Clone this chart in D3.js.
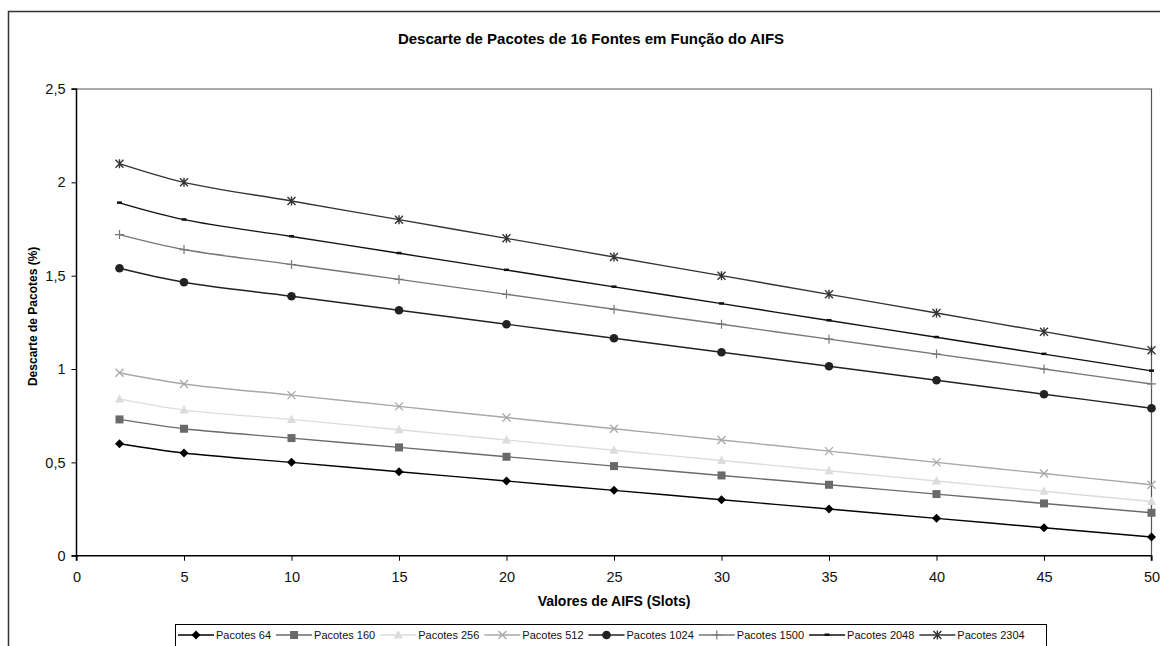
<!DOCTYPE html>
<html><head><meta charset="utf-8">
<script src="https://cdn.jsdelivr.net/npm/d3@7"></script>
<style>body{margin:0;background:#fff}svg{display:block;font-family:"Liberation Sans",Arial,sans-serif}</style>
</head><body><svg id="c" width="1160" height="646"></svg>
<script>
const xValues = [2,5,10,15,20,25,30,35,40,45,50];
const seriesNames = ["Pacotes 64","Pacotes 160","Pacotes 256","Pacotes 512","Pacotes 1024","Pacotes 1500","Pacotes 2048","Pacotes 2304"];
const p64   = [0.60,0.55,0.50,0.45,0.40,0.35,0.30,0.25,0.20,0.15,0.10];
const p160  = [0.73,0.68,0.63,0.58,0.53,0.48,0.43,0.38,0.33,0.28,0.23];
const p256  = [0.84,0.78,0.73,0.675,0.62,0.565,0.51,0.455,0.40,0.345,0.29];
const p512  = [0.98,0.92,0.86,0.80,0.74,0.68,0.62,0.56,0.50,0.44,0.38];
const p1024 = [1.54,1.465,1.39,1.315,1.24,1.165,1.09,1.015,0.94,0.865,0.79];
const p1500 = [1.72,1.64,1.56,1.48,1.40,1.32,1.24,1.16,1.08,1.00,0.92];
const p2048 = [1.89,1.80,1.71,1.62,1.53,1.44,1.35,1.26,1.17,1.08,0.99];
const p2304 = [2.10,2.00,1.90,1.80,1.70,1.60,1.50,1.40,1.30,1.20,1.10];
const xTicks = [0,5,10,15,20,25,30,35,40,45,50];
const yTicks = [0,0.5,1,1.5,2,2.5];
const yTickLabels = ["0","0,5","1","1,5","2","2,5"];

const values = [p64,p160,p256,p512,p1024,p1500,p2048,p2304];
const colors = ["#000000","#6a6a6a","#dcdcdc","#a8a8a8","#222222","#777777","#111111","#333333"];
const markers = ["diamond","square","triangle","x","circle","plus","dash","star"];

const svg = d3.select("#c");
const L=76.5, R=1151.5, T=89, B=555.7;
const x = d3.scaleLinear().domain([0,50]).range([L,R]);
const y = d3.scaleLinear().domain([0,2.5]).range([B,T]);

// outer border
svg.append("rect").attr("x",8.5).attr("y",11.5).attr("width",1170).attr("height",700)
  .attr("fill","none").attr("stroke","#333").attr("stroke-width",1.5);

// plot area border (top & right)
svg.append("path").attr("d",`M${L},${T}H${R}V${B}`).attr("fill","none").attr("stroke","#555").attr("stroke-width",1.2);

// axes
const yAxis = d3.axisLeft(y).tickValues(yTicks).tickSize(5).tickPadding(6).tickFormat((d,i)=>yTickLabels[i]);
const gy = svg.append("g").attr("transform",`translate(${L},0)`).call(yAxis);
const xAxis = d3.axisBottom(x).tickValues(xTicks).tickSize(5).tickPadding(11).tickFormat(d=>d);
const gx = svg.append("g").attr("transform",`translate(0,${B})`).call(xAxis);
[gx,gy].forEach(g=>{
  g.select(".domain").attr("stroke","#000").attr("stroke-width",1.5);
  g.selectAll(".tick line").attr("stroke","#000");
  g.selectAll("text").attr("font-size",14.5).attr("fill","#111").attr("font-family","Liberation Sans, Arial, sans-serif");
});
gy.select(".domain").attr("d",`M-5,${T}H0V${B}H-5`);
gx.select(".domain").attr("d",`M${L},5V0H${R}V5`);

// titles
svg.append("text").attr("x",591).attr("y",44).attr("text-anchor","middle").attr("font-size",15).attr("font-weight","bold").text("Descarte de Pacotes de 16 Fontes em Função do AIFS");
svg.append("text").attr("x",614).attr("y",606).attr("text-anchor","middle").attr("font-size",14).attr("font-weight","bold").text("Valores de AIFS (Slots)");
svg.append("text").attr("transform",`translate(37,${(T+B)/2 - 6}) rotate(-90)`).attr("text-anchor","middle").attr("font-size",12).attr("font-weight","bold").text("Descarte de Pacotes (%)");

function drawMarker(g,type,cx,cy,color){
  switch(type){
    case "diamond": g.append("path").attr("d",`M${cx},${cy-4.5}L${cx+4.5},${cy}L${cx},${cy+4.5}L${cx-4.5},${cy}Z`).attr("fill",color); break;
    case "square": g.append("rect").attr("x",cx-4).attr("y",cy-4).attr("width",8).attr("height",8).attr("fill",color); break;
    case "triangle": g.append("path").attr("d",`M${cx},${cy-5}L${cx+4.5},${cy+3.5}L${cx-4.5},${cy+3.5}Z`).attr("fill",color); break;
    case "x": g.append("path").attr("d",`M${cx-4},${cy-4}L${cx+4},${cy+4}M${cx-4},${cy+4}L${cx+4},${cy-4}`).attr("stroke",color).attr("stroke-width",1.3); break;
    case "circle": g.append("circle").attr("cx",cx).attr("cy",cy).attr("r",4.3).attr("fill",color); break;
    case "plus": g.append("path").attr("d",`M${cx-4.5},${cy}H${cx+4.5}M${cx},${cy-4.5}V${cy+4.5}`).attr("stroke",color).attr("stroke-width",1.2); break;
    case "dash": g.append("rect").attr("x",cx-2.5).attr("y",cy-1.5).attr("width",5).attr("height",2.5).attr("fill",color); break;
    case "star": g.append("path").attr("d",`M${cx-4},${cy-4}L${cx+4},${cy+4}M${cx-4},${cy+4}L${cx+4},${cy-4}M${cx},${cy-4.5}V${cy+4.5}`).attr("stroke",color).attr("stroke-width",1.4); break;
  }
}

const line = d3.line().x(d=>x(d[0])).y(d=>y(d[1])).curve(d3.curveCatmullRom.alpha(0.5));
values.forEach((vals,i)=>{
  const pts = xValues.map((xv,j)=>[xv,vals[j]]);
  svg.append("path").datum(pts).attr("d",line).attr("fill","none").attr("stroke",colors[i]).attr("stroke-width",1.4);
});
values.forEach((vals,i)=>{
  const g = svg.append("g");
  xValues.forEach((xv,j)=>drawMarker(g,markers[i],x(xv),y(vals[j]),colors[i]));
});

// legend
const lg = svg.append("g");
let lx = 178;
const ly = 635;
seriesNames.forEach((name,i)=>{
  lg.append("line").attr("x1",lx).attr("x2",lx+36).attr("y1",ly).attr("y2",ly).attr("stroke",colors[i]).attr("stroke-width",1.4);
  drawMarker(lg,markers[i],lx+18,ly,colors[i]);
  const t = lg.append("text").attr("x",lx+38).attr("y",ly+4).attr("font-size",11).attr("fill","#111").text(name);
  const w = t.node().getComputedTextLength();
  lx = lx + 38 + w + 5;
});
lg.insert("rect",":first-child").attr("x",175.5).attr("y",624.5).attr("width",871).attr("height",30).attr("fill","#fff").attr("stroke","#000").attr("stroke-width",1);
</script></body></html>
